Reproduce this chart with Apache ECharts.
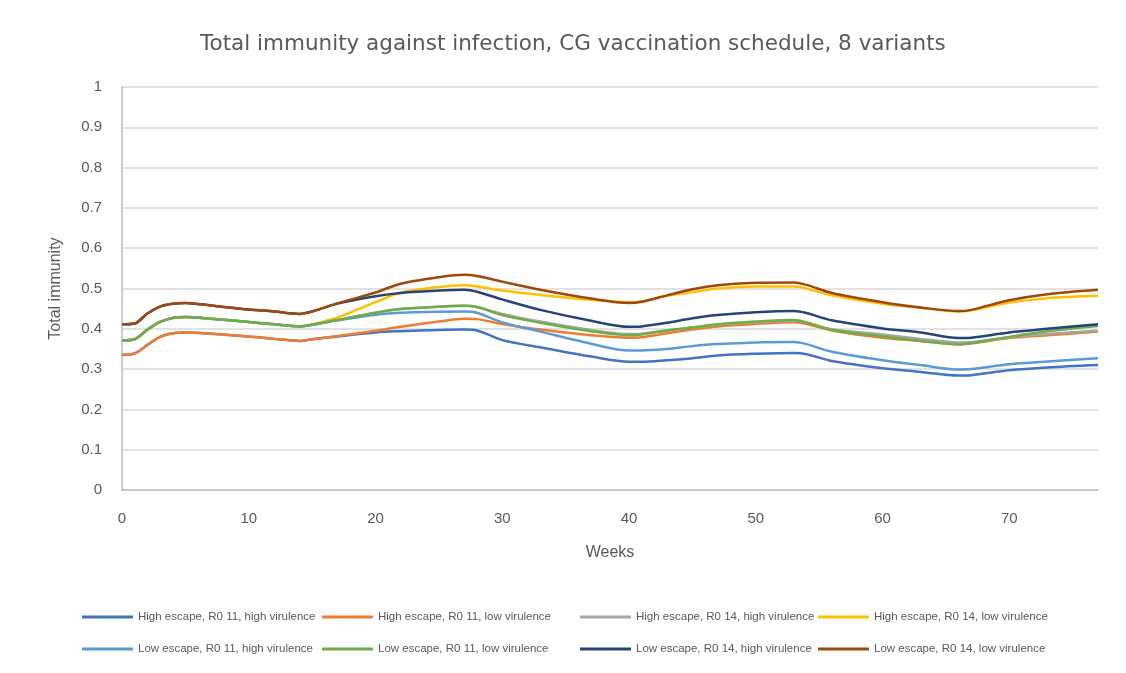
<!DOCTYPE html>
<html>
<head>
<meta charset="utf-8">
<script src="https://cdn.jsdelivr.net/npm/echarts@6/dist/echarts.min.js"></script>
<style>
  html, body { margin: 0; padding: 0; background: #ffffff; }
  #chart { width: 1126px; height: 673px; }
</style>
</head>
<body>
<div id="chart"></div>
<script>
var weeks = [0, 1, 2, 3, 4, 5, 7, 10, 12, 14, 15, 17, 20, 22, 25, 27, 28, 30, 33, 37, 40, 41, 43, 45, 47, 50, 53, 54, 56, 60, 63, 66, 67, 70, 73, 77];

var names = [
  'High escape, R0 11, high virulence',
  'High escape, R0 11, low virulence',
  'High escape, R0 14, high virulence',
  'High escape, R0 14, low virulence',
  'Low escape, R0 11, high virulence',
  'Low escape, R0 11, low virulence',
  'Low escape, R0 14, high virulence',
  'Low escape, R0 14, low virulence'
];

var highR11High = [0.335, 0.339, 0.36, 0.38, 0.389, 0.391, 0.388, 0.381, 0.375, 0.37, 0.374, 0.381, 0.391, 0.394, 0.397, 0.398, 0.396, 0.372, 0.354, 0.331, 0.318, 0.318, 0.322, 0.327, 0.334, 0.338, 0.34, 0.337, 0.32, 0.302, 0.293, 0.284, 0.285, 0.297, 0.304, 0.31];
var highR11Low = [0.335, 0.339, 0.36, 0.38, 0.389, 0.391, 0.388, 0.381, 0.375, 0.37, 0.374, 0.382, 0.395, 0.405, 0.418, 0.425, 0.424, 0.412, 0.398, 0.384, 0.378, 0.379, 0.389, 0.398, 0.406, 0.412, 0.416, 0.412, 0.396, 0.378, 0.37, 0.362, 0.364, 0.377, 0.384, 0.393];
var highR14High = [0.371, 0.374, 0.398, 0.417, 0.427, 0.429, 0.425, 0.417, 0.411, 0.406, 0.41, 0.422, 0.44, 0.449, 0.455, 0.457, 0.454, 0.437, 0.418, 0.397, 0.387, 0.388, 0.396, 0.403, 0.41, 0.416, 0.42, 0.416, 0.399, 0.386, 0.375, 0.366, 0.367, 0.379, 0.387, 0.395];
var highR14Low = [0.371, 0.374, 0.398, 0.417, 0.427, 0.429, 0.425, 0.417, 0.411, 0.406, 0.411, 0.428, 0.466, 0.49, 0.504, 0.508, 0.505, 0.495, 0.484, 0.472, 0.466, 0.468, 0.482, 0.491, 0.5, 0.505, 0.505, 0.5, 0.483, 0.462, 0.452, 0.443, 0.446, 0.465, 0.476, 0.482];
var lowR11High = [0.371, 0.374, 0.398, 0.417, 0.427, 0.429, 0.425, 0.417, 0.411, 0.406, 0.41, 0.421, 0.435, 0.44, 0.4425, 0.443, 0.44, 0.416, 0.393, 0.363, 0.346, 0.346, 0.35, 0.357, 0.362, 0.366, 0.367, 0.362, 0.343, 0.322, 0.31, 0.299, 0.3, 0.312, 0.319, 0.327];
var lowR11Low = [0.371, 0.374, 0.398, 0.417, 0.427, 0.429, 0.425, 0.417, 0.411, 0.406, 0.41, 0.422, 0.44, 0.449, 0.455, 0.457, 0.454, 0.434, 0.415, 0.394, 0.384, 0.386, 0.396, 0.403, 0.411, 0.418, 0.422, 0.416, 0.397, 0.381, 0.37, 0.361, 0.364, 0.38, 0.394, 0.407];
var lowR14High = [0.411, 0.413, 0.438, 0.455, 0.462, 0.464, 0.458, 0.448, 0.443, 0.437, 0.443, 0.463, 0.481, 0.489, 0.495, 0.497, 0.492, 0.473, 0.447, 0.42, 0.405, 0.406, 0.415, 0.426, 0.434, 0.441, 0.444, 0.439, 0.421, 0.401, 0.391, 0.377, 0.378, 0.391, 0.4, 0.411];
var lowR14Low = [0.411, 0.413, 0.438, 0.455, 0.462, 0.464, 0.458, 0.448, 0.443, 0.437, 0.443, 0.463, 0.49, 0.512, 0.528, 0.534, 0.531, 0.517, 0.497, 0.475, 0.464, 0.467, 0.483, 0.498, 0.508, 0.514, 0.515, 0.509, 0.489, 0.466, 0.453, 0.444, 0.447, 0.471, 0.486, 0.497];

var allValues = [highR11High, highR11Low, highR14High, highR14Low, lowR11High, lowR11Low, lowR14High, lowR14Low];
var colors = ['#4472C4', '#ED7D31', '#A5A5A5', '#FFC000', '#5B9BD5', '#70AD47', '#264478', '#9E480E'];

var textColor = '#595959';
var font = 'Liberation Sans';

var chart = echarts.init(document.getElementById('chart'));

// legend is laid out in fixed columns like the original
var legendLeft = [77, 317, 575, 813];
var legendTop = [606, 638];
var legends = names.map(function (n, i) {
  return {
    data: [n],
    left: legendLeft[i % 4],
    top: legendTop[Math.floor(i / 4)],
    icon: 'rect',
    itemWidth: 51,
    itemHeight: 3,
    itemGap: 5,
    textStyle: { color: textColor, fontSize: 11.5, fontFamily: font }
  };
});

var option = {
  backgroundColor: '#ffffff',
  color: colors,
  animation: false,
  title: {
    text: 'Total immunity against infection, CG vaccination schedule, 8 variants',
    left: 195,
    top: 28,
    textStyle: { color: textColor, fontSize: 21.5, fontWeight: 'normal', fontFamily: 'DejaVu Sans' }
  },
  legend: legends,
  grid: { left: 122, right: 28, top: 87, bottom: 183 },
  xAxis: {
    type: 'value',
    min: 0,
    max: 77,
    interval: 10,
    name: 'Weeks',
    nameLocation: 'middle',
    nameGap: 55,
    nameTextStyle: { color: textColor, fontSize: 16, fontFamily: font },
    axisLine: { show: true, lineStyle: { color: '#BFBFBF', width: 1.5 } },
    axisTick: { show: false },
    axisLabel: { color: textColor, fontSize: 15, fontFamily: font, margin: 21, showMaxLabel: false },
    splitLine: { show: false }
  },
  yAxis: {
    type: 'value',
    min: 0,
    max: 1,
    interval: 0.1,
    name: 'Total immunity',
    nameLocation: 'middle',
    nameGap: 58,
    nameTextStyle: { color: textColor, fontSize: 16, fontFamily: font },
    axisLine: { show: true, lineStyle: { color: '#BFBFBF', width: 1.5 } },
    axisTick: { show: false },
    axisLabel: { color: textColor, fontSize: 15, fontFamily: font, margin: 20 },
    splitLine: { lineStyle: { color: '#D9D9D9', width: 1.5 } }
  },
  series: names.map(function (n, i) {
    return {
      name: n,
      type: 'line',
      smooth: 0.3,
      symbol: 'none',
      lineStyle: { width: 2.5, color: colors[i] },
      itemStyle: { color: colors[i] },
      data: weeks.map(function (w, j) { return [w, allValues[i][j]]; })
    };
  })
};

chart.setOption(option);
</script>
</body>
</html>
